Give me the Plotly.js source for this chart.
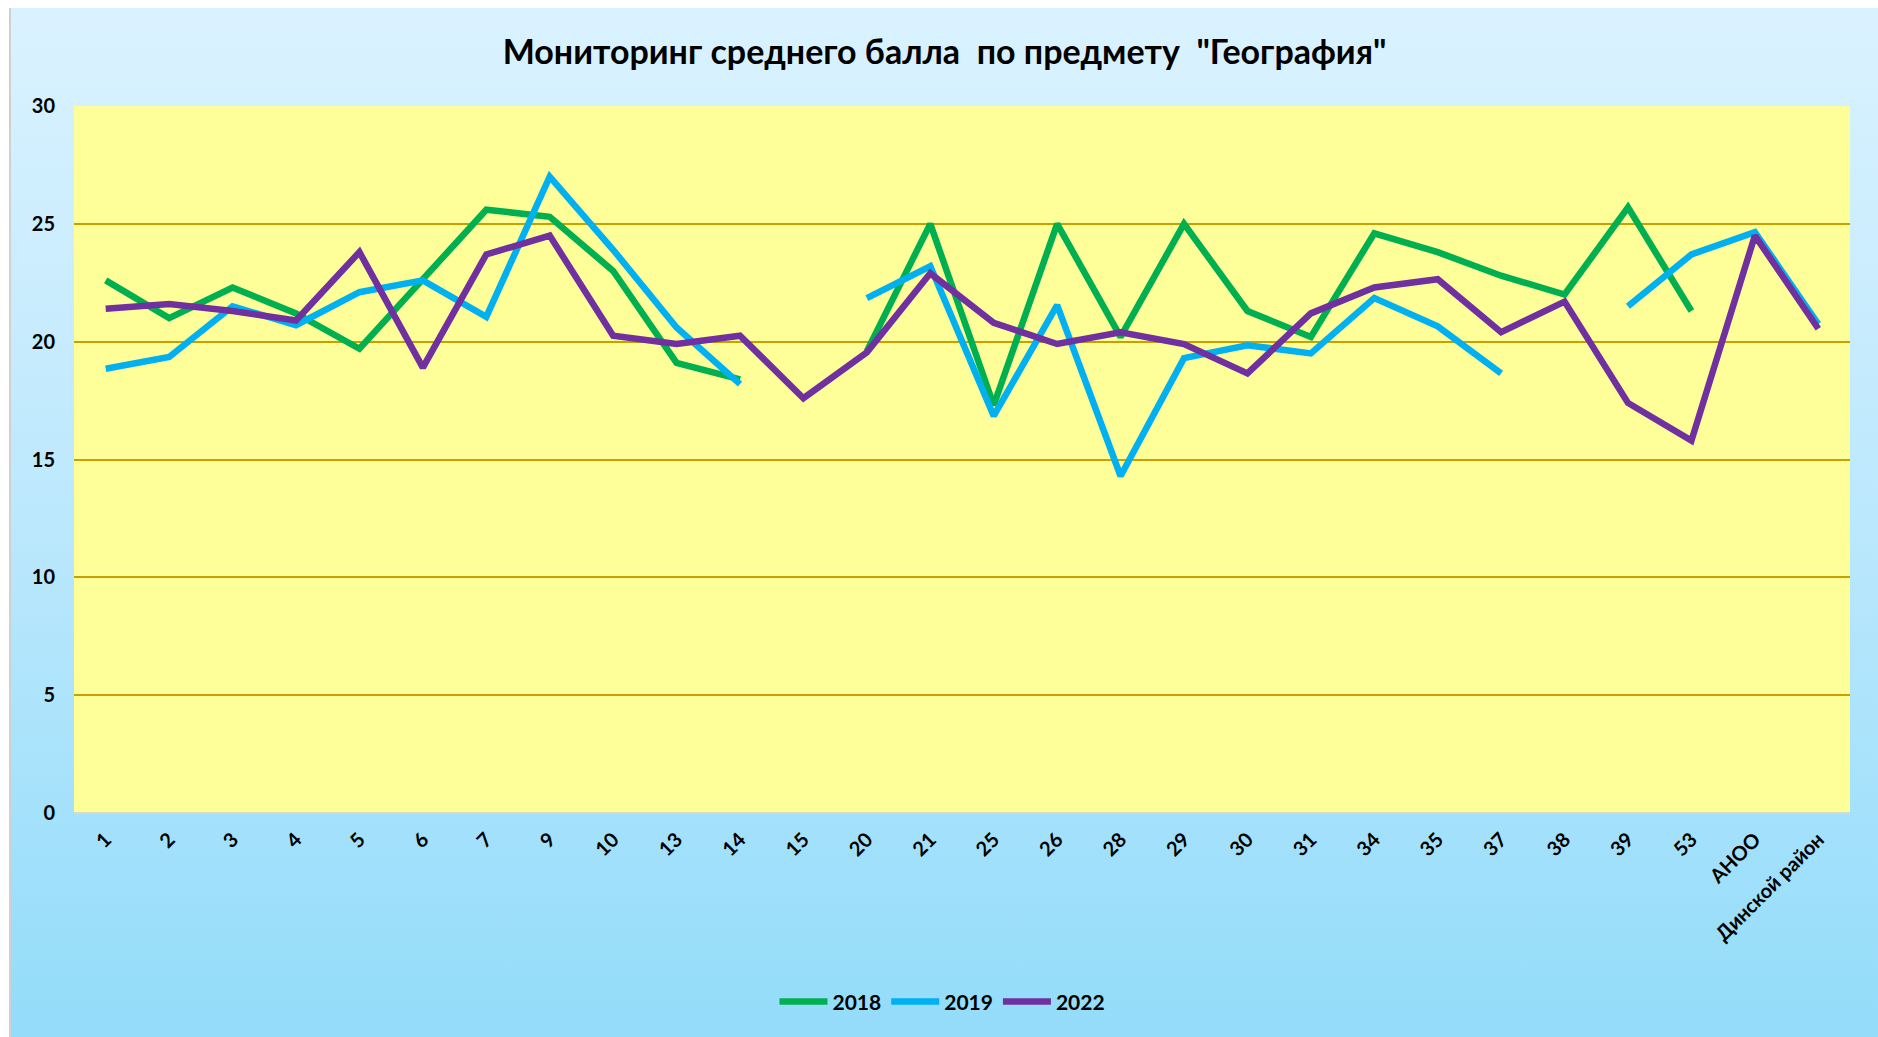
<!DOCTYPE html>
<html>
<head>
<meta charset="utf-8">
<script src="https://cdn.plot.ly/plotly-3.0.1.min.js"></script>
<style>
  html, body { margin: 0; padding: 0; width: 1878px; height: 1037px; background: #ffffff; overflow: hidden; }
  #frame { position: absolute; left: 9px; top: 8px; width: 1869px; height: 1029px;
           background: linear-gradient(to bottom, #daf2ff 0%, #bfe9fd 45%, #93dcfa 100%);
           border-left: 2px solid #d0d0d0; box-sizing: border-box; }
  #chart { position: absolute; left: 0; top: 0; width: 1867px; height: 1029px; }
</style>
</head>
<body>
<div id="frame"><div id="chart"></div></div>
<script>
const categories = ["1","2","3","4","5","6","7","9","10","13","14","15","20","21","25","26","28","29","30","31","34","35","37","38","39","53","АНОО","Динской район"];
const seriesNames = ["2018", "2019", "2022"];
const values2018 = [22.6,21.0,22.3,21.2,19.7,22.7,25.6,25.3,23.0,19.1,18.4,null,19.6,25.0,17.3,25.0,20.2,25.0,21.3,20.2,24.6,23.8,22.8,22.0,25.7,21.3,null,null];
const values2019 = [18.85,19.35,21.5,20.7,22.1,22.6,21.05,27.0,23.9,20.6,18.2,null,21.85,23.2,16.85,21.55,14.3,19.3,19.85,19.5,21.85,20.65,18.65,null,21.5,23.7,24.65,20.75];
const values2022 = [21.4,21.6,21.3,20.9,23.8,18.9,23.7,24.5,20.25,19.9,20.25,17.6,19.55,22.9,20.8,19.9,20.4,19.9,18.65,21.2,22.3,22.65,20.4,21.7,17.4,15.8,24.5,20.55];
const yTicks = [0, 5, 10, 15, 20, 25, 30];
const titleText = 'Мониторинг среднего балла  по предмету  "География"';

const colors = ["#00b050", "#00b0f0", "#7030a0"];
const allValues = [values2018, values2019, values2022];
const FONT = "Lato, 'Open Sans', sans-serif";

const traces = allValues.map((vals, k) => ({
  type: "scatter",
  mode: "lines",
  name: seriesNames[k],
  x: categories,
  y: vals,
  connectgaps: false,
  line: { color: colors[k], width: 6.5 }
}));

const layout = {
  width: 1867,
  height: 1029,
  paper_bgcolor: "rgba(0,0,0,0)",
  plot_bgcolor: "#ffff99",
  margin: { l: 63, r: 28, t: 98, b: 224 },
  title: {
    text: "<b>" + titleText.replace(/  /g, " &nbsp;") + "</b>",
    font: { family: FONT, size: 34, color: "#000000" },
    x: 0.5, xanchor: "center",
    y: 0.957, yanchor: "middle"
  },
  xaxis: {
    type: "category",
    categoryorder: "array",
    categoryarray: categories,
    range: [-0.5, categories.length - 0.5],
    tickangle: -45,
    tickfont: { family: FONT, size: 20, color: "#000000", weight: "bold" },
    showgrid: false,
    showline: false,
    ticks: "",
    ticklabelstandoff: 10
  },
  yaxis: {
    range: [0, 30],
    tickvals: yTicks,
    ticktext: yTicks.map(String),
    tickfont: { family: FONT, size: 20, color: "#000000", weight: "bold" },
    showgrid: true,
    gridcolor: "#c9a000",
    gridwidth: 2,
    zeroline: true,
    zerolinecolor: "#d9d9c8",
    zerolinewidth: 2,
    showline: false,
    ticks: "",
    ticklabelstandoff: 18
  },
  showlegend: true,
  legend: {
    orientation: "h",
    x: 0.489, xanchor: "center",
    y: -0.267, yanchor: "middle",
    font: { family: FONT, size: 21, color: "#000000", weight: "bold" },
    bgcolor: "rgba(0,0,0,0)",
    itemwidth: 48,
    tracegroupgap: 0
  }
};

Plotly.newPlot("chart", traces, layout, { displayModeBar: false, staticPlot: true });
</script>
</body>
</html>
